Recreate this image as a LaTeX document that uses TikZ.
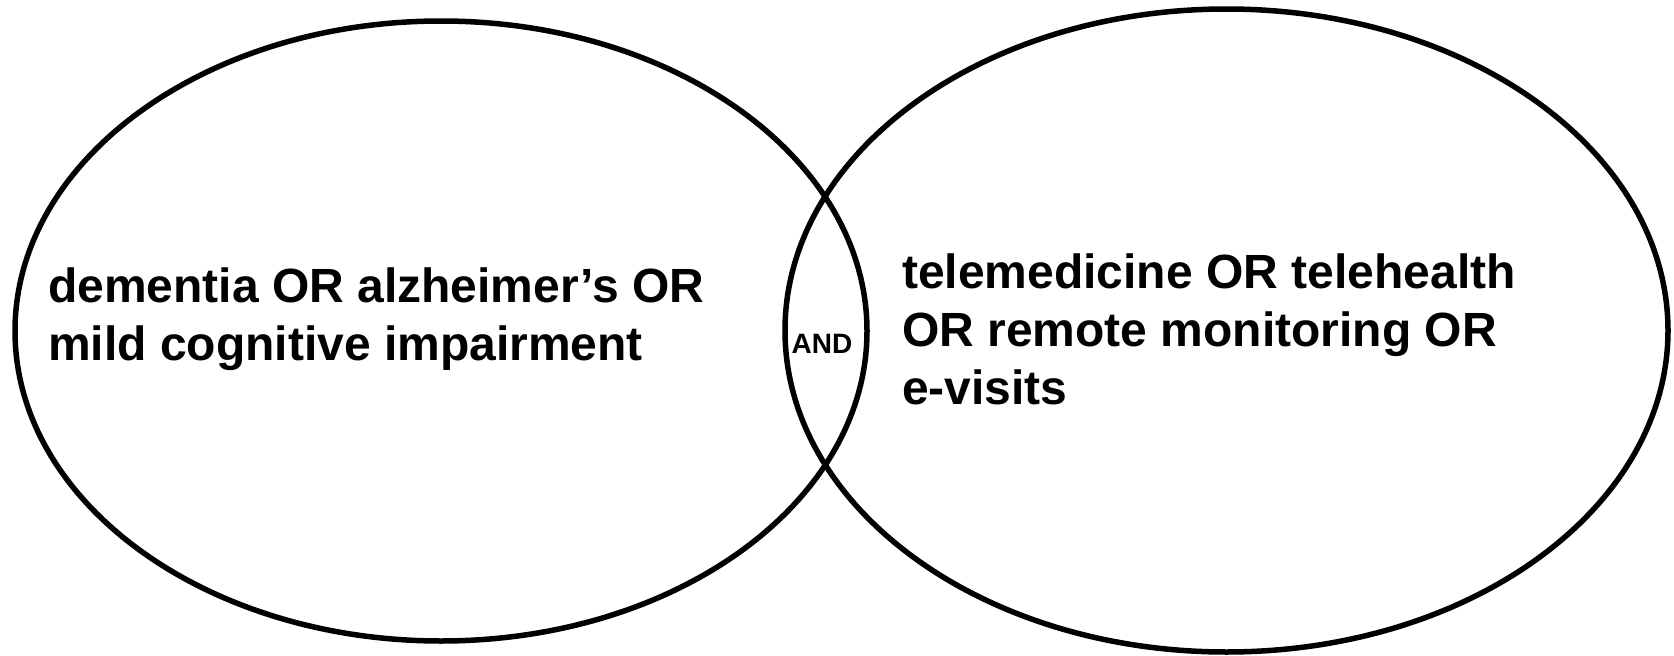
\documentclass[tikz,border=0pt]{standalone}
\usepackage{fontspec}
\setmainfont{Liberation Sans}
\begin{document}
\begin{tikzpicture}[x=1pt,y=-1pt,
  setring/.style={draw=black,line width=5.5pt},
  bigtext/.style={font=\bfseries\fontsize{48}{58}\selectfont,align=left,inner sep=0pt,anchor=base west},
  andtext/.style={font=\bfseries\fontsize{28}{32}\selectfont,inner sep=0pt}]
\useasboundingbox (0,0) rectangle (1674,656);
\draw[setring] (441,331) ellipse [x radius=426, y radius=310];
\draw[setring] (1226.5,330.5) ellipse [x radius=441.5, y radius=321.5];
\node[bigtext] (left) at (48,360) {dementia OR alzheimer’s OR\\mild cognitive impairment};
\node[bigtext] (right) at (902,404) {telemedicine OR telehealth\\OR remote monitoring OR\\e-visits};
\node[andtext] (and) at (822,344) {AND};
\end{tikzpicture}
\end{document}
